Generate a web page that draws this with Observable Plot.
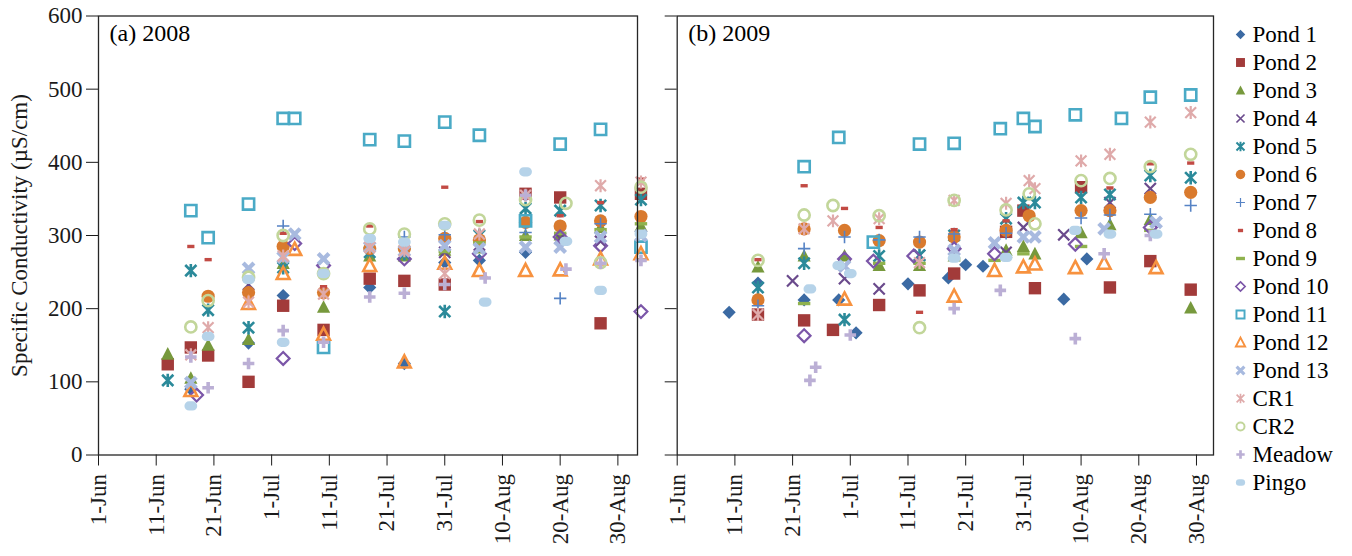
<!DOCTYPE html>
<html>
<head>
<meta charset="utf-8">
<script src="https://cdn.jsdelivr.net/npm/d3@7"></script>
<script src="https://cdn.jsdelivr.net/npm/@observablehq/plot@0.6"></script>
<style>
  html, body { margin: 0; padding: 0; background: #fff; }
  #chart { display: flex; flex-direction: row; width: 1352px; height: 556px; }
  #chart svg { display: block; overflow: visible; }
  #chart svg, #chart svg text { font-family: "Liberation Serif", "DejaVu Serif", serif !important; }
</style>
</head>
<body>
<div id="chart"></div>
<script>
// Series in legend order
const seriesNames = ["Pond 1", "Pond 2", "Pond 3", "Pond 4", "Pond 5", "Pond 6", "Pond 7", "Pond 8",
  "Pond 9", "Pond 10", "Pond 11", "Pond 12", "Pond 13", "CR1", "CR2", "Meadow", "Pingo"];

// Date ticks (month-day), every ten days from 1 June
const tickDays = ["06-01", "06-11", "06-21", "07-01", "07-11", "07-21", "07-31", "08-10", "08-20", "08-30"];
const yTicks = [0, 100, 200, 300, 400, 500, 600];

// ---- 2008 specific conductivity (µS/cm), [month-day, value] ----
const pond1_2008 = [["06-17", 90], ["06-27", 153], ["07-03", 218], ["07-18", 229], ["07-24", 125], ["07-31", 263], ["08-06", 266], ["08-14", 277]];
const pond2_2008 = [["06-13", 124], ["06-17", 147], ["06-20", 136], ["06-27", 100], ["07-03", 204], ["07-10", 171], ["07-18", 241], ["07-24", 238], ["07-31", 233], ["08-14", 357], ["08-20", 352], ["08-27", 180], ["09-03", 357]];
const pond3_2008 = [["06-13", 138], ["06-17", 105], ["06-20", 150], ["06-27", 158], ["07-03", 262], ["07-10", 202], ["07-18", 272], ["07-24", 272], ["07-31", 280], ["08-06", 283], ["08-14", 300], ["08-20", 301], ["08-27", 311], ["09-03", 313]];
const pond4_2008 = [["06-27", 233], ["07-31", 277], ["08-06", 287], ["08-20", 296], ["08-27", 292]];
const pond5_2008 = [["06-13", 102], ["06-17", 252], ["06-20", 198], ["06-27", 174], ["07-03", 256], ["07-18", 277], ["07-24", 275], ["07-31", 196], ["08-06", 300], ["08-14", 337], ["08-20", 334], ["08-27", 341], ["09-03", 349]];
const pond6_2008 = [["06-20", 217], ["06-27", 222], ["07-03", 285], ["07-10", 222], ["07-18", 282], ["07-24", 282], ["07-31", 296], ["08-06", 294], ["08-14", 318], ["08-20", 313], ["08-27", 320], ["09-03", 326]];
const pond7_2008 = [["07-03", 313], ["07-24", 298], ["07-31", 301], ["08-14", 304], ["08-20", 214], ["08-27", 316]];
const pond8_2008 = [["06-17", 285], ["06-20", 267], ["07-03", 303], ["07-10", 230], ["07-18", 313], ["07-31", 366], ["08-06", 319], ["08-20", 327], ["08-27", 345], ["09-03", 377]];
const pond9_2008 = [["07-31", 278], ["08-06", 290], ["08-14", 298], ["08-20", 303], ["08-27", 308], ["09-03", 316]];
const pond10_2008 = [["06-18", 82], ["07-03", 132], ["07-05", 289], ["07-10", 259], ["07-24", 268], ["08-06", 275], ["08-20", 298], ["08-27", 286], ["09-03", 196]];
const pond11_2008 = [["06-17", 334], ["06-20", 297], ["06-27", 343], ["07-03", 460], ["07-05", 460], ["07-10", 147], ["07-18", 431], ["07-24", 429], ["07-31", 455], ["08-06", 437], ["08-14", 320], ["08-20", 425], ["08-27", 445], ["09-03", 284]];
const pond12_2008 = [["06-17", 88], ["06-27", 207], ["07-03", 248], ["07-05", 281], ["07-10", 165], ["07-18", 259], ["07-24", 127], ["07-31", 262], ["08-06", 252], ["08-14", 252], ["08-20", 253], ["08-27", 268], ["09-03", 275]];
const pond13_2008 = [["06-17", 99], ["06-27", 255], ["07-03", 270], ["07-05", 302], ["07-10", 268], ["07-18", 284], ["07-24", 279], ["07-31", 286], ["08-06", 282], ["08-14", 284], ["08-20", 284], ["08-27", 298], ["09-03", 300]];
const cr1_2008 = [["06-17", 137], ["06-20", 174], ["06-27", 209], ["07-03", 272], ["07-10", 220], ["07-18", 284], ["07-24", 279], ["07-31", 248], ["08-06", 302], ["08-14", 355], ["08-27", 368], ["09-03", 373]];
const cr2_2008 = [["06-17", 175], ["06-20", 211], ["06-27", 243], ["07-03", 300], ["07-10", 248], ["07-18", 309], ["07-24", 302], ["07-31", 316], ["08-06", 321], ["08-14", 349], ["08-21", 344], ["08-27", 263], ["09-03", 366]];
const meadow_2008 = [["06-17", 134], ["06-20", 92], ["06-27", 125], ["07-03", 170], ["07-10", 154], ["07-18", 216], ["07-24", 221], ["07-31", 233], ["08-07", 242], ["08-14", 355], ["08-21", 254], ["08-27", 262], ["09-03", 266]];
const pingo_2008 = [["06-17", 67], ["06-20", 162], ["06-27", 240], ["07-03", 154], ["07-10", 248], ["07-18", 296], ["07-24", 291], ["07-31", 314], ["08-07", 209], ["08-14", 387], ["08-21", 292], ["08-27", 225], ["09-03", 302]];

// ---- 2009 specific conductivity (µS/cm), [month-day, value] ----
const pond1_2009 = [["06-10", 195], ["06-15", 235], ["06-23", 212], ["06-29", 212], ["07-02", 167], ["07-11", 234], ["07-18", 242], ["07-21", 260], ["07-24", 258], ["08-07", 213], ["08-11", 268]];
const pond2_2009 = [["06-15", 192], ["06-23", 184], ["06-28", 171], ["07-06", 205], ["07-13", 225], ["07-19", 248], ["07-28", 305], ["07-31", 334], ["08-02", 228], ["08-10", 366], ["08-15", 229], ["08-22", 265], ["08-29", 226]];
const pond3_2009 = [["06-15", 257], ["06-23", 272], ["06-30", 272], ["07-06", 259], ["07-13", 259], ["07-19", 272], ["07-28", 280], ["07-31", 285], ["08-02", 275], ["08-10", 304], ["08-15", 315], ["08-22", 322], ["08-29", 201]];
const pond4_2009 = [["06-21", 238], ["06-30", 241], ["07-06", 227], ["07-13", 273], ["07-28", 277], ["07-31", 311], ["08-07", 301], ["08-15", 345], ["08-22", 364]];
const pond5_2009 = [["06-15", 229], ["06-23", 262], ["06-30", 185], ["07-06", 272], ["07-13", 273], ["07-19", 300], ["07-28", 323], ["07-31", 345], ["08-02", 345], ["08-10", 352], ["08-15", 356], ["08-22", 382], ["08-29", 379]];
const pond6_2009 = [["06-15", 212], ["06-23", 309], ["06-30", 307], ["07-06", 293], ["07-13", 291], ["07-19", 298], ["07-28", 307], ["08-01", 327], ["08-10", 334], ["08-15", 334], ["08-22", 352], ["08-29", 359]];
const pond7_2009 = [["06-15", 204], ["06-23", 282], ["06-30", 298], ["07-06", 294], ["07-13", 298], ["07-19", 302], ["07-28", 303], ["08-10", 324], ["08-15", 328], ["08-22", 329], ["08-29", 341]];
const pond8_2009 = [["06-15", 267], ["06-23", 368], ["06-30", 337], ["07-06", 311], ["07-13", 195], ["07-19", 308], ["07-28", 320], ["08-15", 365], ["08-22", 398], ["08-29", 399]];
const pond9_2009 = [["06-23", 207], ["07-06", 262], ["07-13", 262], ["07-19", 268], ["07-26", 266], ["07-31", 275], ["08-10", 285], ["08-22", 307]];
const pond10_2009 = [["06-23", 163], ["06-30", 268], ["07-05", 265], ["07-12", 272], ["07-19", 282], ["07-26", 275], ["08-09", 288], ["08-22", 311]];
const pond11_2009 = [["06-23", 394], ["06-29", 434], ["07-05", 291], ["07-13", 425], ["07-19", 426], ["07-27", 446], ["07-31", 460], ["08-02", 449], ["08-09", 465], ["08-17", 460], ["08-22", 489], ["08-29", 492]];
const pond12_2009 = [["06-30", 213], ["07-19", 217], ["07-26", 252], ["07-31", 257], ["08-02", 261], ["08-09", 256], ["08-14", 262], ["08-23", 256]];
const pond13_2009 = [["06-30", 258], ["07-19", 280], ["07-26", 290], ["07-31", 298], ["08-02", 298], ["08-14", 309], ["08-23", 318]];
const cr1_2009 = [["06-15", 192], ["06-23", 309], ["06-28", 320], ["07-06", 323], ["07-13", 263], ["07-19", 348], ["07-28", 344], ["08-01", 375], ["08-02", 364], ["08-10", 402], ["08-15", 411], ["08-22", 455], ["08-29", 468]];
const cr2_2009 = [["06-15", 266], ["06-23", 328], ["06-28", 341], ["07-06", 327], ["07-13", 174], ["07-19", 348], ["07-28", 335], ["08-01", 357], ["08-02", 316], ["08-10", 375], ["08-15", 378], ["08-22", 394], ["08-29", 411]];
const meadow_2009 = [["06-24", 102], ["06-25", 120], ["07-01", 164], ["07-19", 200], ["07-27", 225], ["08-09", 159], ["08-14", 275], ["08-22", 300]];
const pingo_2009 = [["06-24", 227], ["06-29", 259], ["07-01", 248], ["07-19", 269], ["07-28", 270], ["08-09", 307], ["08-15", 302], ["08-23", 302]];

const data2008 = [pond1_2008, pond2_2008, pond3_2008, pond4_2008, pond5_2008, pond6_2008, pond7_2008, pond8_2008,
  pond9_2008, pond10_2008, pond11_2008, pond12_2008, pond13_2008, cr1_2008, cr2_2008, meadow_2008, pingo_2008];
const data2009 = [pond1_2009, pond2_2009, pond3_2009, pond4_2009, pond5_2009, pond6_2009, pond7_2009, pond8_2009,
  pond9_2009, pond10_2009, pond11_2009, pond12_2009, pond13_2009, cr1_2009, cr2_2009, meadow_2009, pingo_2009];

// ---- marker shapes (d3 symbol-type objects; r derived from the symbol area) ----
const sym = (f) => ({ draw(c, size) { f(c, Math.sqrt(size / Math.PI)); } });
const diamondSym = sym((c, r) => { c.moveTo(0, -r); c.lineTo(r, 0); c.lineTo(0, r); c.lineTo(-r, 0); c.closePath(); });
const squareSym = sym((c, r) => { c.rect(-r, -r, 2 * r, 2 * r); });
const triangleSym = sym((c, r) => { c.moveTo(0, -r * 1.05); c.lineTo(r, r * 0.85); c.lineTo(-r, r * 0.85); c.closePath(); });
const timesSym = sym((c, r) => { c.moveTo(-r, -r); c.lineTo(r, r); c.moveTo(r, -r); c.lineTo(-r, r); });
const starSym = sym((c, r) => { c.moveTo(-r, -r); c.lineTo(r, r); c.moveTo(r, -r); c.lineTo(-r, r); c.moveTo(0, -r * 1.2); c.lineTo(0, r * 1.2); });
const plusSym = sym((c, r) => { c.moveTo(-r, 0); c.lineTo(r, 0); c.moveTo(0, -r); c.lineTo(0, r); });
const dashSym = sym((c, r) => { c.rect(-r, -1.7, 2 * r, 3.4); });
const circleSym = sym((c, r) => { c.moveTo(r, 0); c.arc(0, 0, r, 0, 2 * Math.PI); });
const pillSym = sym((c, r) => {
  const w = r, h = r * 0.72, k = h;
  c.moveTo(-w + k, -h); c.lineTo(w - k, -h); c.arcTo(w, -h, w, 0, k); c.arcTo(w, h, w - k, h, k);
  c.lineTo(-w + k, h); c.arcTo(-w, h, -w, 0, k); c.arcTo(-w, -h, -w + k, -h, k); c.closePath();
});

const markerStyle = {
  "Pond 1":  { symbol: diamondSym,  fill: "#3b6aa3", r: 6.6 },
  "Pond 2":  { symbol: squareSym,   fill: "#a23b3a", r: 6.2 },
  "Pond 3":  { symbol: triangleSym, fill: "#77993d", r: 6.6 },
  "Pond 4":  { symbol: timesSym,    stroke: "#6a4a8c", sw: 2.2, r: 5.6 },
  "Pond 5":  { symbol: starSym,     stroke: "#2b8a9a", sw: 2.6, r: 5.6 },
  "Pond 6":  { symbol: circleSym,   fill: "#d97a2e", r: 6.6 },
  "Pond 7":  { symbol: plusSym,     stroke: "#5683c5", sw: 1.6, r: 6.2 },
  "Pond 8":  { symbol: dashSym,     fill: "#c24a44", r: 3.6 },
  "Pond 9":  { symbol: dashSym,     fill: "#8fb24e", r: 6.2 },
  "Pond 10": { symbol: diamondSym,  stroke: "#7b56a8", sw: 2.2, r: 6.4 },
  "Pond 11": { symbol: squareSym,   stroke: "#4aaac6", sw: 2.6, r: 5.6 },
  "Pond 12": { symbol: triangleSym, stroke: "#f7923f", sw: 2.6, r: 6.4 },
  "Pond 13": { symbol: timesSym,    stroke: "#a8badf", sw: 4.2, r: 5.4 },
  "CR1":     { symbol: starSym,     stroke: "#dfaaaa", sw: 2.2, r: 5.4 },
  "CR2":     { symbol: circleSym,   stroke: "#c2d69a", sw: 2.6, r: 5.6 },
  "Meadow":  { symbol: plusSym,     stroke: "#bbafd5", sw: 3.6, r: 5.8 },
  "Pingo":   { symbol: pillSym,     fill: "#b6d3e9", r: 6.4 }
};

const DAY = 864e5;
const font = "Liberation Serif, DejaVu Serif, serif";

function panel(year, seriesData, tag, opt) {
  const start = new Date(Date.UTC(year, 5, 1));
  const end = new Date(start.getTime() + opt.days * DAY);
  const toDate = (md) => new Date(`${year}-${md}T00:00:00Z`);
  const marks = seriesNames.map((name, i) => {
    const s = markerStyle[name];
    return Plot.dot(seriesData[i], {
      x: (d) => toDate(d[0]), y: (d) => d[1],
      symbol: s.symbol, r: s.r,
      fill: s.fill ?? "none", stroke: s.stroke ?? "none", strokeWidth: s.sw ?? 0
    });
  });
  marks.push(Plot.frame({ stroke: "#262626", strokeWidth: 1.3 }));
  marks.push(Plot.text([tag], {
    frameAnchor: "top-left", dx: 11, dy: 8, textAnchor: "start", lineAnchor: "top",
    fontSize: 24, fill: "#000"
  }));
  return Plot.plot({
    width: opt.width, height: 556,
    marginTop: 15.5, marginBottom: 101.5, marginLeft: opt.marginLeft, marginRight: opt.marginRight,
    style: { fontFamily: font, fontSize: "23px", color: "#1a1a1a", background: "white", overflow: "visible" },
    x: {
      type: "utc", domain: [start, end],
      ticks: tickDays.map(toDate), tickFormat: d3.utcFormat("%-d-%b"),
      tickRotate: -90, tickSize: 11, tickPadding: 8, label: null
    },
    y: {
      domain: [0, 600], ticks: yTicks, tickSize: 12, tickPadding: 4,
      tickFormat: opt.yLabels ? (d) => d : () => "",
      label: opt.yLabels ? "Specific Conductivity (µS/cm)" : null,
      labelAnchor: "center", labelOffset: 88, labelArrow: "none"
    },
    marks
  });
}

function legend() {
  const marks = seriesNames.map((name) => {
    const s = markerStyle[name];
    return Plot.dot([name], {
      y: (d) => d, frameAnchor: "left", dx: 24,
      symbol: s.symbol, r: s.r * 0.72,
      fill: s.fill ?? "none", stroke: s.stroke ?? "none", strokeWidth: (s.sw ?? 0) * 0.75
    });
  });
  marks.push(Plot.text(seriesNames, {
    y: (d) => d, text: (d) => d, frameAnchor: "left", dx: 36, textAnchor: "start",
    fontSize: 23, fill: "#000"
  }));
  return Plot.plot({
    width: 136, height: 556, marginTop: 33, marginBottom: 74, marginLeft: 0, marginRight: 0,
    style: { fontFamily: font, fontSize: "23px", background: "white", overflow: "visible" },
    y: { type: "point", domain: seriesNames, axis: null, padding: 0 },
    marks
  });
}

const root = document.getElementById("chart");
root.append(
  panel(2008, data2008, "(a) 2008", { width: 650, marginLeft: 98, marginRight: 13, days: 93.4, yLabels: true }),
  panel(2009, data2009, "(b) 2009", { width: 566, marginLeft: 26.7, marginRight: 3, days: 92.95, yLabels: false }),
  legend()
);
</script>
</body>
</html>
